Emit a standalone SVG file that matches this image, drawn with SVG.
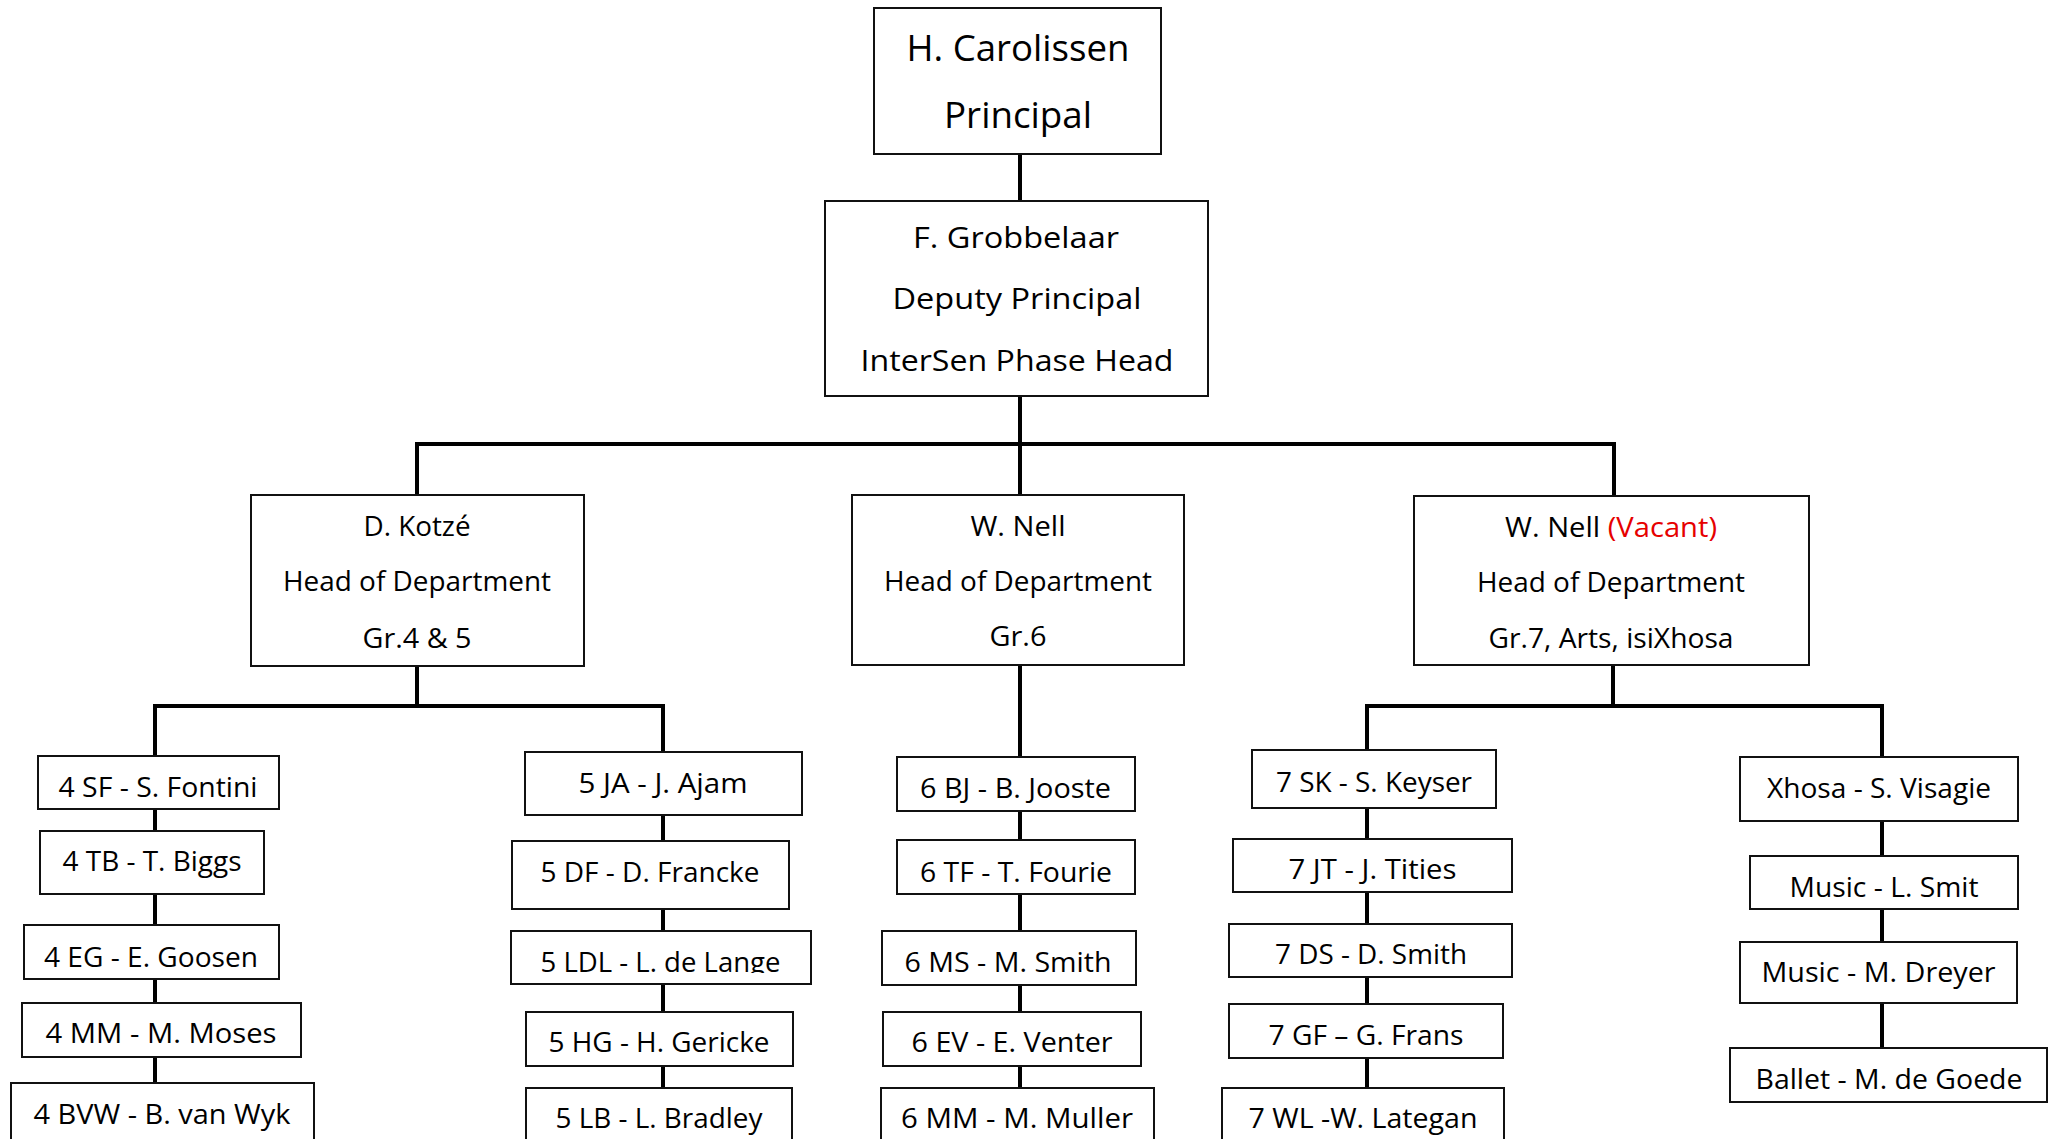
<svg xmlns="http://www.w3.org/2000/svg" width="2058" height="1139" viewBox="0 0 2058 1139">
<style>
.box{fill:#fff;stroke:#111;stroke-width:2}
.c{fill:none;stroke:#000;stroke-width:4;stroke-linejoin:miter}
text{font-family:"Open Sans","Noto Sans","Liberation Sans",sans-serif;fill:#000;text-anchor:middle}
.t36{font-size:36px}
.t29{font-size:29px}
.t27{font-size:27.5px}
.red{fill:#e60000}
</style>
<defs>
<clipPath id="clipLDL"><rect x="500" y="925" width="320" height="48"/></clipPath>
</defs>
<rect width="2058" height="1139" fill="#fff"/>
<g id="connectors">
<path class="c" d="M1020 154V201"/>
<path class="c" d="M1020 396V495"/>
<path class="c" d="M417 495V444H1614V496"/>
<path class="c" d="M417 666V706"/>
<path class="c" d="M155 1083V706H663V1088"/>
<path class="c" d="M1020 665V1088"/>
<path class="c" d="M1613 665V706"/>
<path class="c" d="M1367 1088V706H1882V1048"/>
</g>
<g id="principal"><rect class="box" x="874" y="8" width="287" height="146"/>
<text class="t36" x="1018" y="61" textLength="223" lengthAdjust="spacingAndGlyphs">H. Carolissen</text>
<text class="t36" x="1018" y="128" textLength="148" lengthAdjust="spacingAndGlyphs">Principal</text></g>
<g id="deputy"><rect class="box" x="825" y="201" width="383" height="195"/>
<text class="t29" x="1016" y="248" textLength="206" lengthAdjust="spacingAndGlyphs">F. Grobbelaar</text>
<text class="t29" x="1017" y="309" textLength="249" lengthAdjust="spacingAndGlyphs">Deputy Principal</text>
<text class="t29" x="1017" y="371" textLength="313" lengthAdjust="spacingAndGlyphs">InterSen Phase Head</text></g>
<g id="hod-kotze"><rect class="box" x="251" y="495" width="333" height="171"/>
<text class="t27" x="417" y="536" textLength="107" lengthAdjust="spacingAndGlyphs">D. Kotzé</text>
<text class="t27" x="417" y="591" textLength="268" lengthAdjust="spacingAndGlyphs">Head of Department</text>
<text class="t27" x="417" y="648" textLength="109" lengthAdjust="spacingAndGlyphs">Gr.4 &amp; 5</text></g>
<g id="hod-nell"><rect class="box" x="852" y="495" width="332" height="170"/>
<text class="t27" x="1018" y="536" textLength="95" lengthAdjust="spacingAndGlyphs">W. Nell</text>
<text class="t27" x="1018" y="591" textLength="268" lengthAdjust="spacingAndGlyphs">Head of Department</text>
<text class="t27" x="1018" y="646" textLength="57" lengthAdjust="spacingAndGlyphs">Gr.6</text></g>
<g id="hod-vacant"><rect class="box" x="1414" y="496" width="395" height="169"/>
<text class="t27" x="1611" y="537" textLength="212" lengthAdjust="spacingAndGlyphs">W. Nell <tspan class="red">(Vacant)</tspan></text>
<text class="t27" x="1611" y="592" textLength="268" lengthAdjust="spacingAndGlyphs">Head of Department</text>
<text class="t27" x="1611" y="648" textLength="245" lengthAdjust="spacingAndGlyphs">Gr.7, Arts, isiXhosa</text></g>
<g id="t-4sf"><rect class="box" x="38" y="756" width="241" height="53"/><text class="t27" x="158" y="797" textLength="199" lengthAdjust="spacingAndGlyphs">4 SF - S. Fontini</text></g>
<g id="t-4tb"><rect class="box" x="40" y="831" width="224" height="63"/><text class="t27" x="152" y="871" textLength="179" lengthAdjust="spacingAndGlyphs">4 TB - T. Biggs</text></g>
<g id="t-4eg"><rect class="box" x="24" y="925" width="255" height="54"/><text class="t27" x="151" y="967" textLength="214" lengthAdjust="spacingAndGlyphs">4 EG - E. Goosen</text></g>
<g id="t-4mm"><rect class="box" x="22" y="1003" width="279" height="54"/><text class="t27" x="161" y="1043" textLength="231" lengthAdjust="spacingAndGlyphs">4 MM - M. Moses</text></g>
<g id="t-4bvw"><rect class="box" x="11" y="1083" width="303" height="70"/><text class="t27" x="162" y="1124" textLength="257" lengthAdjust="spacingAndGlyphs">4 BVW - B. van Wyk</text></g>
<g id="t-5ja"><rect class="box" x="525" y="752" width="277" height="63"/><text class="t27" x="663" y="793" textLength="169" lengthAdjust="spacingAndGlyphs">5 JA - J. Ajam</text></g>
<g id="t-5df"><rect class="box" x="512" y="841" width="277" height="68"/><text class="t27" x="650" y="882" textLength="219" lengthAdjust="spacingAndGlyphs">5 DF - D. Francke</text></g>
<g id="t-5ldl"><rect class="box" x="511" y="931" width="300" height="53"/><text class="t27" x="660.5" y="972" textLength="240" lengthAdjust="spacingAndGlyphs" clip-path="url(#clipLDL)">5 LDL - L. de Lange</text></g>
<g id="t-5hg"><rect class="box" x="526" y="1012" width="267" height="54"/><text class="t27" x="659" y="1052" textLength="221" lengthAdjust="spacingAndGlyphs">5 HG - H. Gericke</text></g>
<g id="t-5lb"><rect class="box" x="526" y="1088" width="266" height="70"/><text class="t27" x="659" y="1128" textLength="207" lengthAdjust="spacingAndGlyphs">5 LB - L. Bradley</text></g>
<g id="t-6bj"><rect class="box" x="897" y="757" width="238" height="54"/><text class="t27" x="1015.5" y="798" textLength="191" lengthAdjust="spacingAndGlyphs">6 BJ - B. Jooste</text></g>
<g id="t-6tf"><rect class="box" x="897" y="840" width="238" height="54"/><text class="t27" x="1016" y="882" textLength="192" lengthAdjust="spacingAndGlyphs">6 TF - T. Fourie</text></g>
<g id="t-6ms"><rect class="box" x="882" y="931" width="254" height="54"/><text class="t27" x="1008" y="972" textLength="207" lengthAdjust="spacingAndGlyphs">6 MS - M. Smith</text></g>
<g id="t-6ev"><rect class="box" x="883" y="1012" width="258" height="54"/><text class="t27" x="1012" y="1052" textLength="201" lengthAdjust="spacingAndGlyphs">6 EV - E. Venter</text></g>
<g id="t-6mm"><rect class="box" x="881" y="1088" width="273" height="70"/><text class="t27" x="1017" y="1128" textLength="232" lengthAdjust="spacingAndGlyphs">6 MM - M. Muller</text></g>
<g id="t-7sk"><rect class="box" x="1252" y="750" width="244" height="58"/><text class="t27" x="1374" y="792" textLength="196" lengthAdjust="spacingAndGlyphs">7 SK - S. Keyser</text></g>
<g id="t-7jt"><rect class="box" x="1233" y="839" width="279" height="53"/><text class="t27" x="1372.5" y="879" textLength="168" lengthAdjust="spacingAndGlyphs">7 JT - J. Tities</text></g>
<g id="t-7ds"><rect class="box" x="1229" y="924" width="283" height="53"/><text class="t27" x="1371" y="964" textLength="192" lengthAdjust="spacingAndGlyphs">7 DS - D. Smith</text></g>
<g id="t-7gf"><rect class="box" x="1229" y="1004" width="274" height="54"/><text class="t27" x="1366" y="1045" textLength="195" lengthAdjust="spacingAndGlyphs">7 GF – G. Frans</text></g>
<g id="t-7wl"><rect class="box" x="1222" y="1088" width="282" height="70"/><text class="t27" x="1363" y="1128" textLength="229" lengthAdjust="spacingAndGlyphs">7 WL -W. Lategan</text></g>
<g id="a-xhosa"><rect class="box" x="1740" y="757" width="278" height="64"/><text class="t27" x="1879" y="798" textLength="224" lengthAdjust="spacingAndGlyphs">Xhosa - S. Visagie</text></g>
<g id="a-music-smit"><rect class="box" x="1750" y="856" width="268" height="53"/><text class="t27" x="1884" y="897" textLength="189" lengthAdjust="spacingAndGlyphs">Music - L. Smit</text></g>
<g id="a-music-dreyer"><rect class="box" x="1740" y="942" width="277" height="61"/><text class="t27" x="1878.5" y="982" textLength="234" lengthAdjust="spacingAndGlyphs">Music - M. Dreyer</text></g>
<g id="a-ballet"><rect class="box" x="1730" y="1048" width="317" height="54"/><text class="t27" x="1889" y="1089" textLength="267" lengthAdjust="spacingAndGlyphs">Ballet - M. de Goede</text></g>
</svg>
